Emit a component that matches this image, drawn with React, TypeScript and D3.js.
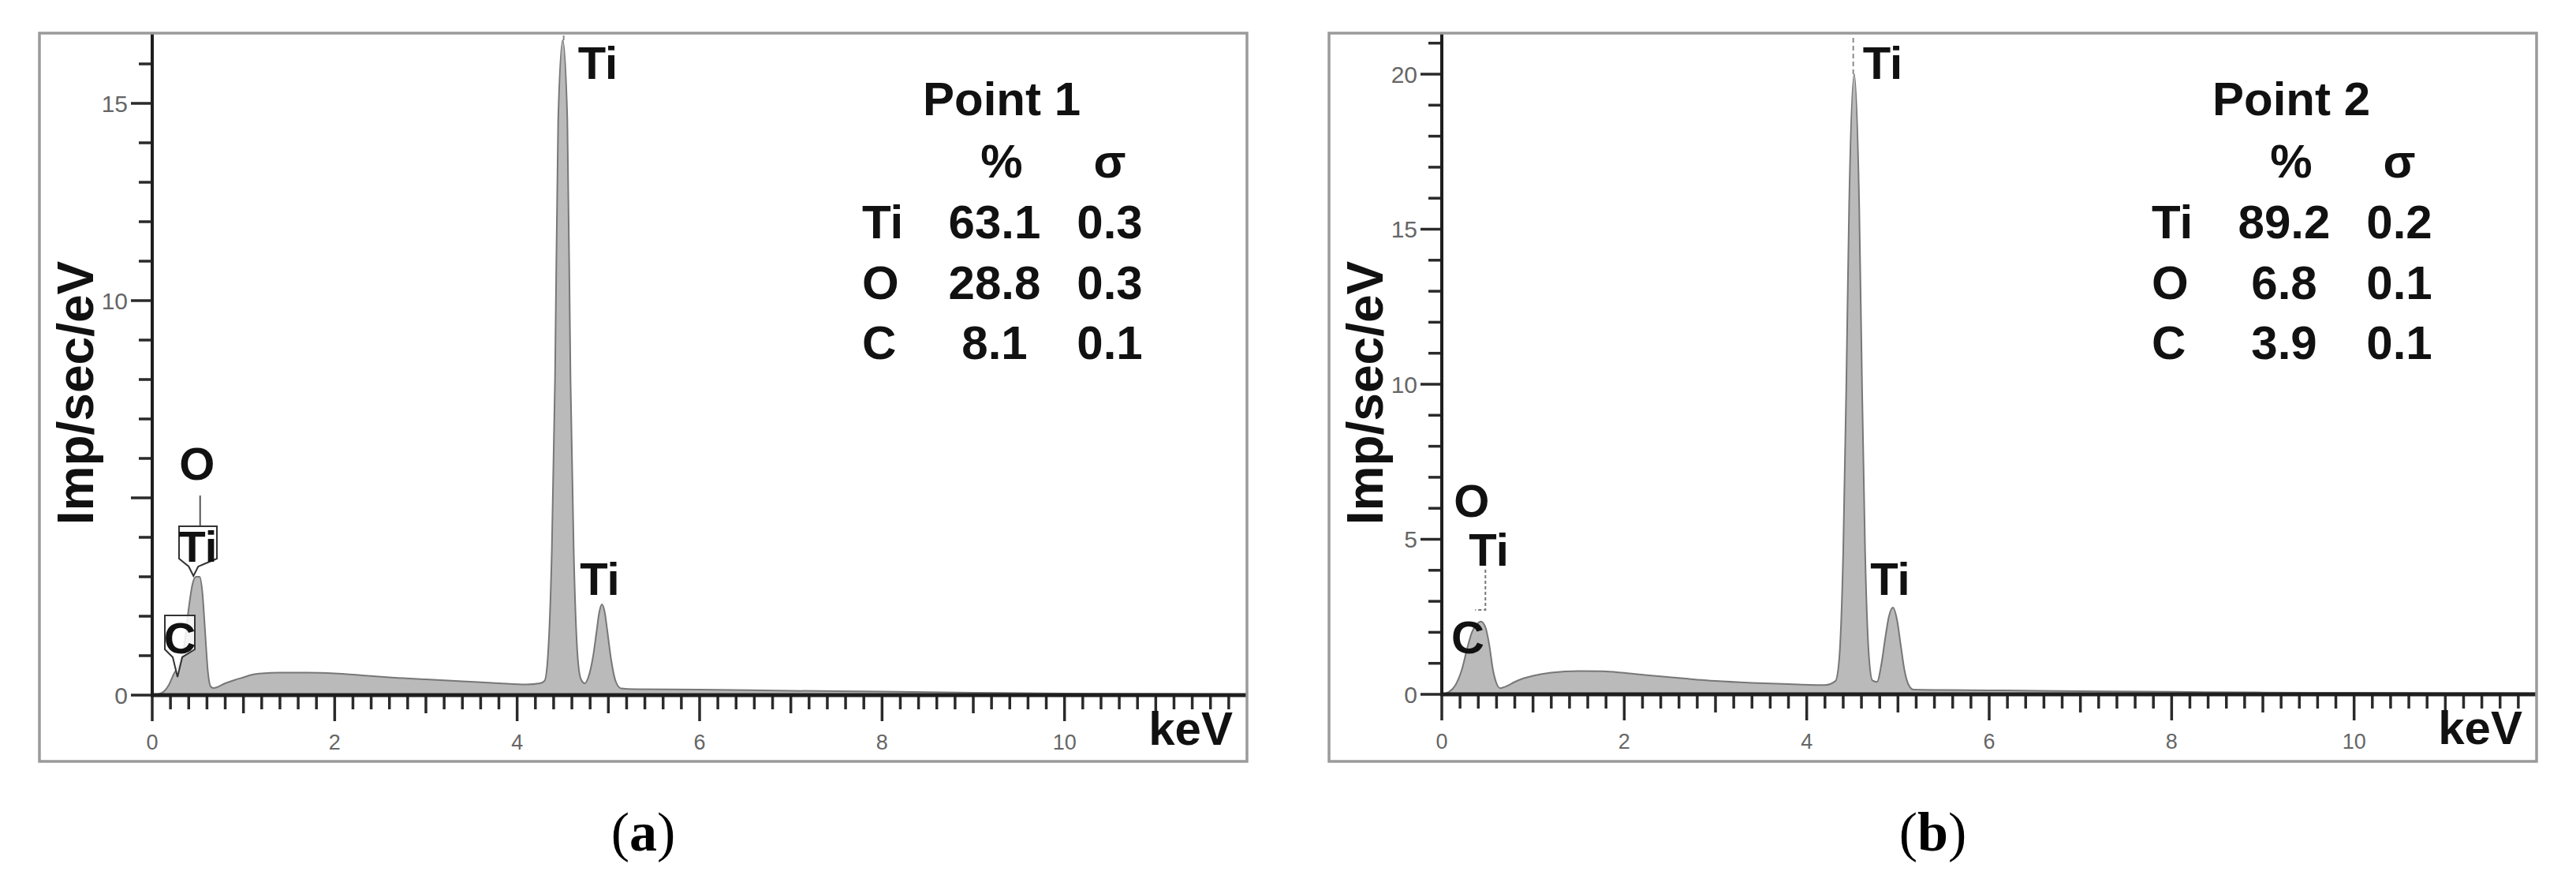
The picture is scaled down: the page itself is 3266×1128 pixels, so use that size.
import React, { useEffect, useRef } from "react";
import * as d3 from "d3";

// spectrum (a), energy in keV and counts in imp/sec/eV
const energyA = [0, 0.1, 0.18, 0.24, 0.28, 0.32, 0.36, 0.4, 0.44, 0.48, 0.52, 0.55, 0.58, 0.61, 0.64, 0.67,
  0.8, 0.9, 1.0, 1.1, 1.2, 1.4, 1.7, 2.0, 2.3, 2.6, 3.0, 3.4, 3.8, 4.1, 4.25, 4.3, 4.335, 4.38, 4.415, 4.45,
  4.5, 4.55, 4.585, 4.62, 4.665, 4.7, 4.74, 4.78, 4.83, 4.87, 4.9, 4.93,
  4.96, 4.99, 5.03, 5.08, 5.14, 5.3, 6.0, 7.0, 8.0, 9.0, 10.0, 11.0, 12.0];
const countsA = [0, 0.05, 0.25, 0.55, 0.7, 0.9, 1.4, 2.2, 2.8, 3.0, 3.0, 2.6, 1.6, 0.6, 0.22, 0.18,
  0.3, 0.38, 0.45, 0.52, 0.55, 0.57, 0.57, 0.55, 0.5, 0.45, 0.4, 0.35, 0.3, 0.27, 0.3, 0.36, 0.92, 3.66, 8.0, 14.6,
  16.6, 14.6, 8.0, 3.66, 0.92, 0.4, 0.3, 0.45, 0.95, 1.6, 2.1, 2.3,
  2.1, 1.6, 0.9, 0.35, 0.17, 0.15, 0.14, 0.11, 0.09, 0.06, 0.04, 0.03, 0.02];

// spectrum (b)
const energyB = [0, 0.08, 0.15, 0.22, 0.28, 0.33, 0.38, 0.43, 0.48, 0.52, 0.56, 0.6, 0.64, 0.7, 0.8, 0.9,
  1.0, 1.2, 1.5, 1.8, 2.1, 2.4, 2.7, 3.0, 3.4, 3.8, 4.2, 4.315, 4.355, 4.4, 4.435, 4.465, 4.52, 4.575,
  4.605, 4.64, 4.685, 4.72, 4.77, 4.82, 4.86, 4.9, 4.945, 4.99, 5.03,
  5.07, 5.11, 5.17, 5.5, 6.0, 7.0, 8.0, 9.0, 10.0, 11.0, 12.0];
const countsB = [0, 0.08, 0.3, 0.8, 1.5, 2.0, 2.25, 2.35, 2.15, 1.6, 0.8, 0.35, 0.2, 0.25, 0.4, 0.52,
  0.6, 0.7, 0.75, 0.74, 0.66, 0.58, 0.5, 0.43, 0.37, 0.33, 0.3, 0.43, 1.1, 4.6, 10.2, 15.8, 20.0, 15.8,
  10.2, 4.6, 1.1, 0.45, 0.4, 1.0, 1.8, 2.5, 2.8, 2.4, 1.6,
  0.8, 0.35, 0.15, 0.14, 0.13, 0.1, 0.08, 0.06, 0.05, 0.04, 0.03];

// element lines (keV)
const lineC = 0.277;
const lineO = 0.525;
const lineTiL = 0.452;
const lineTiKa = 4.51;
const lineTiKb = 4.93;

const elements = ["Ti", "O", "C"];
const percentA = ["63.1", "28.8", "8.1"];
const sigmaA = ["0.3", "0.3", "0.1"];
const percentB = ["89.2", "6.8", "3.9"];
const sigmaB = ["0.2", "0.1", "0.1"];

const xTickLabels = [0, 2, 4, 6, 8, 10];
const yTickLabelsA = [0, 10, 15];
const yTickLabelsB = [0, 5, 10, 15, 20];

const SANS = "'Liberation Sans', Arial, sans-serif";
const SERIF = "'Liberation Serif', 'Times New Roman', serif";

function drawPanel(svg, p) {
  const x = d3.scaleLinear().domain([0, 12]).range([p.x0, p.right]);
  const y = d3.scaleLinear().domain([0, p.yMax]).range([p.y0, p.top]);
  const data = p.energy.map((e, i) => ({ e, v: p.counts[i] }));

  svg
    .append("clipPath")
    .attr("id", "clip_" + p.id)
    .append("rect")
    .attr("x", p.x0)
    .attr("y", p.top)
    .attr("width", p.right - p.x0)
    .attr("height", p.y0 - p.top);

  const area = d3
    .area()
    .x((d) => x(d.e))
    .y0(y(0))
    .y1((d) => y(d.v))
    .curve(d3.curveMonotoneX);
  const line = d3
    .line()
    .x((d) => x(d.e))
    .y((d) => y(d.v))
    .curve(d3.curveMonotoneX);

  const plot = svg.append("g").attr("clip-path", `url(#clip_${p.id})`);
  plot.append("path").datum(data).attr("d", area).attr("fill", "#bababa");
  plot
    .append("path")
    .datum(data)
    .attr("d", line)
    .attr("fill", "none")
    .attr("stroke", "#777")
    .attr("stroke-width", 2);

  // y axis
  const yMinor = d3.range(0, Math.floor(p.yMax) + 1);
  svg
    .append("g")
    .selectAll("line")
    .data(yMinor)
    .join("line")
    .attr("x1", (d) => p.x0 - (d % 5 === 0 ? 27 : 17))
    .attr("x2", p.x0)
    .attr("y1", (d) => y(d))
    .attr("y2", (d) => y(d))
    .attr("stroke", "#2a2a2a")
    .attr("stroke-width", 3.5);
  svg
    .append("g")
    .selectAll("text")
    .data(p.yLabels)
    .join("text")
    .attr("x", p.x0 - 31)
    .attr("y", (d) => y(d))
    .attr("dy", "0.35em")
    .attr("text-anchor", "end")
    .style("font-family", SANS)
    .style("font-size", "30px")
    .style("fill", "#666")
    .text((d) => d);

  // x axis
  const xMinor = d3.range(0, 60).map((i) => i / 5);
  svg
    .append("g")
    .selectAll("line")
    .data(xMinor)
    .join("line")
    .attr("x1", (d) => x(d))
    .attr("x2", (d) => x(d))
    .attr("y1", p.y0)
    .attr("y2", (d, i) => p.y0 + (i % 10 === 0 ? 33 : i % 5 === 0 ? 23 : 18))
    .attr("stroke", "#2a2a2a")
    .attr("stroke-width", 3.5);
  svg
    .append("g")
    .selectAll("text")
    .data(xTickLabels)
    .join("text")
    .attr("x", (d) => x(d))
    .attr("y", p.y0 + 69)
    .attr("text-anchor", "middle")
    .style("font-family", SANS)
    .style("font-size", "27px")
    .style("fill", "#666")
    .text((d) => d);

  svg
    .append("line")
    .attr("x1", p.x0)
    .attr("x2", p.x0)
    .attr("y1", p.top)
    .attr("y2", p.y0 + 2)
    .attr("stroke", "#1e1e1e")
    .attr("stroke-width", 4);
  svg
    .append("line")
    .attr("x1", p.x0 - 2)
    .attr("x2", p.right)
    .attr("y1", p.y0)
    .attr("y2", p.y0)
    .attr("stroke", "#1e1e1e")
    .attr("stroke-width", 5);

  // frame
  svg
    .append("rect")
    .attr("x", p.left)
    .attr("y", p.top)
    .attr("width", p.right - p.left)
    .attr("height", p.bottom - p.top)
    .attr("fill", "none")
    .attr("stroke", "#9a9a9a")
    .attr("stroke-width", 3.5);

  const label = (tx, ty, str, anchor = "start", size = 58) =>
    svg
      .append("text")
      .attr("x", tx)
      .attr("y", ty)
      .attr("text-anchor", anchor)
      .style("font-family", SANS)
      .style("font-weight", "bold")
      .style("font-size", size + "px")
      .style("fill", "#111")
      .text(str);

  // axis titles
  svg
    .append("text")
    .attr("transform", `translate(${p.left + 68},498) rotate(-90)`)
    .attr("text-anchor", "middle")
    .style("font-family", SANS)
    .style("font-weight", "bold")
    .style("font-size", "64px")
    .style("fill", "#111")
    .text("Imp/sec/eV");
  label(p.right - 18, p.y0 + 63, "keV", "end", 60);

  // Ti K lines
  const kaTop = y(d3.max(p.counts));
  svg
    .append("line")
    .attr("x1", x(lineTiKa))
    .attr("x2", x(lineTiKa))
    .attr("y1", kaTop)
    .attr("y2", p.top + 3)
    .attr("stroke", "#8a8a8a")
    .attr("stroke-width", 2)
    .attr("stroke-dasharray", p.id === "b" ? "6,4" : null);
  label(x(lineTiKa) + p.kaDx, 100, "Ti");
  label(x(lineTiKb) + p.kbDx, 754, "Ti");

  // low-energy labels
  p.lowLabels(svg, x, y, label);

  // table
  const L = p.left;
  label(L + 1220, 146, p.title, "middle", 60);
  label(L + 1220, 225, "%", "middle", 60);
  label(L + 1357, 225, "σ", "middle", 60);
  elements.forEach((el, i) => {
    const ty = 302 + i * 76.5;
    label(L + 1043, ty, el, "start", 60);
    label(L + 1211, ty, p.percent[i], "middle", 60);
    label(L + 1357, ty, p.sigma[i], "middle", 60);
  });

  // caption
  const cap = svg
    .append("text")
    .attr("x", (p.left + p.right) / 2)
    .attr("y", 1078)
    .attr("text-anchor", "middle")
    .style("font-family", SERIF)
    .style("font-size", "70px")
    .style("fill", "#000");
  cap.append("tspan").text("(");
  cap.append("tspan").style("font-weight", "bold").text(p.caption);
  cap.append("tspan").text(")");
}

function callout(svg, bx, by, w, h, tipX, tipY) {
  const pts = [
    [bx, by],
    [bx + w, by],
    [bx + w, by + h - 10],
    [tipX + 6, by + h],
    [tipX, tipY],
    [tipX - 6, by + h],
    [bx, by + h - 10],
  ];
  svg
    .append("path")
    .attr("d", d3.line()(pts) + "Z")
    .attr("fill", "#fff")
    .attr("fill-opacity", 0.85)
    .attr("stroke", "#333")
    .attr("stroke-width", 2);
}

const panelA = {
  id: "a",
  left: 50,
  right: 1581,
  top: 42,
  bottom: 965,
  x0: 193,
  y0: 881,
  yMax: (881 - 42) / 50,
  energy: energyA,
  counts: countsA,
  yLabels: yTickLabelsA,
  percent: percentA,
  sigma: sigmaA,
  title: "Point 1",
  caption: "a",
  kaDx: 18,
  kbDx: -28,
  lowLabels: (svg, x, y, label) => {
    svg
      .append("line")
      .attr("x1", x(lineO))
      .attr("x2", x(lineO))
      .attr("y1", 628)
      .attr("y2", 667)
      .attr("stroke", "#555")
      .attr("stroke-width", 2);
    label(x(lineO) - 4, 608, "O", "middle");
    callout(svg, 227, 667, 48, 51, x(lineTiL), 730);
    label(251, 712, "Ti", "middle", 56);
    callout(svg, 209, 780, 38, 53, x(lineC), 858);
    label(228, 828, "C", "middle", 56);
  },
};

const panelB = {
  id: "b",
  left: 1685,
  right: 3216,
  top: 42,
  bottom: 965,
  x0: 1828,
  y0: 880,
  yMax: (880 - 42) / 39.3,
  energy: energyB,
  counts: countsB,
  yLabels: yTickLabelsB,
  percent: percentB,
  sigma: sigmaB,
  title: "Point 2",
  caption: "b",
  kaDx: 12,
  kbDx: -27,
  lowLabels: (svg, x, y, label) => {
    svg
      .append("path")
      .attr("d", d3.line()([[x(lineTiL) + 3, 722], [x(lineTiL) + 3, 773], [x(lineTiL) - 10, 773]]))
      .attr("fill", "none")
      .attr("stroke", "#777")
      .attr("stroke-width", 2)
      .attr("stroke-dasharray", "4,3");
    label(x(lineO) - 23, 655, "O", "middle");
    label(x(lineTiL) - 18, 717, "Ti");
    label(x(lineC) + 1, 828, "C", "middle");
  },
};

export default function App() {
  const ref = useRef(null);
  useEffect(() => {
    document.body.style.margin = "0";
    const svg = d3.select(ref.current);
    svg.selectAll("*").remove();
    svg.append("rect").attr("width", 3266).attr("height", 1128).attr("fill", "#fff");
    drawPanel(svg, panelA);
    drawPanel(svg, panelB);
  }, []);
  return <svg ref={ref} width={3266} height={1128} style={{ display: "block" }} />;
}
